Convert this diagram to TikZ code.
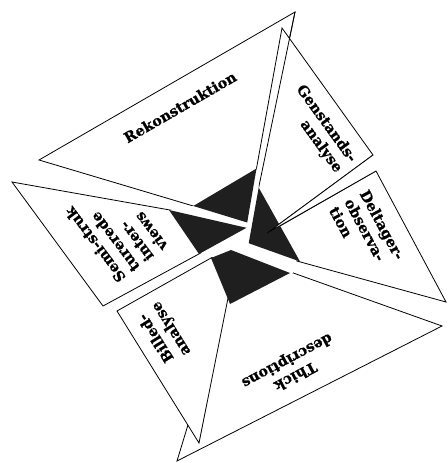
\documentclass[tikz,border=0pt]{standalone}
\usepackage{fontspec}
\setmainfont{DejaVu Serif}[BoldFeatures={FakeBold=0.8}]
\tikzset{
  tri/.style={fill=white,draw=black,line width=0.8pt,line join=miter},
  edge/.style={draw=black,line width=0.8pt},
  blk/.style={fill=black!88},
  lbl/.style={font=\bfseries\fontsize{14.5}{17.5}\selectfont,inner sep=0pt}
}
\begin{document}
\begin{tikzpicture}[x=1pt,y=-1pt]
\useasboundingbox (0,0) rectangle (447,463);
% corners of the six blades
\coordinate (rekA) at (39,160);   \coordinate (rekB) at (295,12);   \coordinate (rekT) at (251.3,223.3);
\coordinate (genA) at (282,28);   \coordinate (genB) at (373,155);  \coordinate (genT) at (241.3,252);
\coordinate (delA) at (376,171);  \coordinate (delB) at (446,302);  \coordinate (delT) at (244.1,246.5);
\coordinate (thkA) at (442,326);  \coordinate (thkB) at (177,461);  \coordinate (thkT) at (240,254);
\coordinate (bilA) at (117,311);  \coordinate (bilB) at (199,443);  \coordinate (bilT) at (239.2,242.1);
\coordinate (semA) at (12,182);   \coordinate (semB) at (103,306);  \coordinate (semT) at (252.8,224.7);
\coordinate (wedge) at (266.7,233.3);
% blades
\path[tri] (thkB) -- (thkA) -- (thkT) -- cycle;
\path[tri] (bilA) -- (bilB) -- (bilT) -- cycle;
\path[tri] (semA) -- (semB) -- (semT) -- cycle;
\path[tri] (delA) -- (delB) -- (delT) -- cycle;
\path[tri] (rekA) -- (rekB) -- (rekT) -- cycle;
\path[tri] (genA) -- (genB) -- (genT) -- cycle;
\path[edge] (rekB) -- (rekT);
% centre: clear, then black pieces
\fill[white] (170,210) -- (193.3,206) -- (256.5,168.5) -- (258.7,187.6) -- (296.4,260.6)
  -- (292.9,272.9) -- (230,303) -- (213,257) -- (200,253) -- cycle;
\fill[blk] (193.3,206) -- (256.5,168.5) -- (247.2,222.5) -- cycle;
\fill[blk] (258.7,187.6) -- (300,261.5) -- (248.7,243.2) -- cycle;
\fill[blk] (169,210) -- (246.5,227.8) -- (199,254) -- cycle;
\fill[blk] (211,258) -- (231,250) -- (290,273) -- (230,304) -- cycle;
% wedge between Genstands and Deltager
\fill[white] (wedge) -- (genB) -- (delA) -- cycle;
\path[edge] (genB) -- (wedge) -- (delA);
% labels
\node[lbl,rotate=30] (rek) at (180,107) {Rekonstruktion};
\node[lbl,rotate=-54,align=right] (gen) at (319,129) {Genstands-\\analyse};
\node[lbl,rotate=-61.5,align=left] (del) at (367,233) {Deltager-\\observa-\\tion};
\node[lbl,rotate=127,align=left] (semi) at (116,229) {Semi-struk\\turerede\\inter-\\views};
\node[lbl,rotate=122,align=center] (bil) at (164,333) {Billed-\\analyse};
\node[lbl,rotate=208,align=center] (thick) at (291,368) {Thick\\descriptions};
\end{tikzpicture}
\end{document}
